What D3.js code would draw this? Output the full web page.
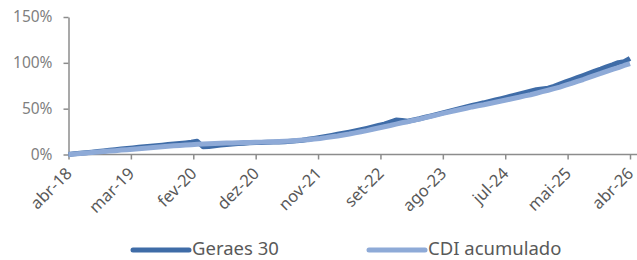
<!DOCTYPE html>
<html>
<head>
<meta charset="utf-8">
<script src="https://cdn.jsdelivr.net/npm/d3@7"></script>
<style>
  body { margin: 0; background: #fff; }
  svg { display: block; font-family: "Noto Sans", sans-serif; }
</style>
</head>
<body>
<div id="chart"></div>
<script>
// monthly accumulated return (%), abr-18 .. abr-26
const geraes = [
  0, 0.7, 1.3, 2.0, 2.6, 3.3, 3.9, 4.6, 5.2,
  5.9, 6.5, 7.2, 7.8, 8.4, 9.0, 9.6, 10.2, 10.8, 11.4, 12.0, 12.6,
  13.3, 14.5, 8.4, 8.8, 9.6, 10.3, 10.9, 11.4, 11.9, 12.3, 12.7, 13.0,
  13.2, 13.3, 13.5, 13.7, 14.0, 14.4, 14.9, 15.6, 16.6, 17.6, 18.7, 19.8,
  20.9, 22.0, 23.2, 24.4, 25.7, 27.1, 28.5, 30.0, 31.6, 33.2, 35.4, 37.6,
  37.2, 36.3, 37.6, 39.0, 40.6, 42.2, 43.8, 45.5, 47.1, 48.7, 50.3, 51.9,
  53.5, 55.0, 56.4, 58.0, 59.5, 61.0, 62.6, 64.2, 65.8, 67.4, 69.0, 70.6,
  71.6, 72.4, 74.4, 76.8, 79.2, 81.5, 83.9, 86.2, 88.6, 91.0, 93.2, 95.6,
  97.8, 100.2, 101.2, 104.8
];
const cdi = [
  0, 0.5, 1.0, 1.6, 2.1, 2.6, 3.2, 3.7, 4.2,
  4.8, 5.3, 5.8, 6.3, 6.9, 7.4, 7.9, 8.5, 9.0, 9.5, 9.9, 10.3,
  10.7, 11.1, 11.4, 11.8, 12.0, 12.3, 12.5, 12.6, 12.8, 13.0, 13.2, 13.4,
  13.5, 13.7, 13.9, 14.2, 14.5, 14.8, 15.2, 15.7, 16.2, 16.8, 17.5, 18.4,
  19.3, 20.2, 21.3, 22.3, 23.6, 24.8, 26.1, 27.6, 28.9, 30.3, 31.6, 33.1,
  34.6, 35.8, 37.4, 38.6, 40.2, 41.7, 43.2, 44.8, 46.2, 47.7, 49.1, 50.4,
  51.9, 53.1, 54.3, 55.7, 57.0, 58.3, 59.7, 61.1, 62.4, 63.9, 65.2, 66.8,
  68.5, 70.1, 71.8, 73.6, 75.6, 77.5, 79.8, 81.8, 84.1, 86.4, 88.4, 90.7,
  92.9, 94.8, 97.1, 99.2
];
const tickLabels = ["abr-18", "mar-19", "fev-20", "dez-20", "nov-21",
                    "set-22", "ago-23", "jul-24", "mai-25", "abr-26"];
const yTicks = [0, 50, 100, 150];

const seriesNames = ["Geraes 30", "CDI acumulado"];
const colors = ["#3f6ca7", "#8eaad7"];

const W = 637, H = 260;
const n = cdi.length - 1;

const x = d3.scaleLinear().domain([0, n]).range([68.5, 630]);
const y = d3.scaleLinear().domain([0, 150]).range([154.5, 17]);

const svg = d3.select("#chart").append("svg")
    .attr("width", W)
    .attr("height", H);

// y axis
const yAxis = svg.append("g")
    .attr("transform", "translate(" + x(0) + ",0)")
    .call(d3.axisLeft(y).tickValues(yTicks).tickSize(5).tickSizeOuter(0)
        .tickFormat(d => d + "%"));
yAxis.select(".domain").attr("stroke", "#8c8c8c").attr("stroke-width", 1.5);
yAxis.selectAll(".tick line").attr("stroke", "#8c8c8c").attr("stroke-width", 1.5);
yAxis.selectAll(".tick text")
    .attr("x", -16)
    .attr("fill", "#7f7f7f")
    .style("font-size", "15.5px")
    .style("font-family", "'Noto Sans', sans-serif");

// x axis
const tickPos = tickLabels.map((d, i) => i * n / (tickLabels.length - 1));
const xAxis = svg.append("g")
    .attr("transform", "translate(0," + y(0) + ")")
    .call(d3.axisBottom(x).tickValues(tickPos).tickSize(5).tickSizeOuter(0)
        .tickFormat((d, i) => tickLabels[i]));
xAxis.select(".domain").attr("d", "M" + x(0) + ",0H" + W)
    .attr("stroke", "#8c8c8c").attr("stroke-width", 1.5);
xAxis.selectAll(".tick line").attr("stroke", "#8c8c8c").attr("stroke-width", 1.5);
xAxis.selectAll(".tick text")
    .attr("y", 0)
    .attr("dy", 0)
    .attr("text-anchor", "end")
    .attr("transform", "translate(4,20) rotate(-45)")
    .attr("fill", "#595959")
    .style("font-size", "16.5px")
    .style("font-family", "'Noto Sans', sans-serif");

// lines
const line = d3.line()
    .x((d, i) => x(i))
    .y(d => y(d));

[geraes, cdi].forEach((s, k) => {
    svg.append("path")
        .datum(s)
        .attr("fill", "none")
        .attr("stroke", colors[k])
        .attr("stroke-width", 5)
        .attr("stroke-linejoin", "round")
        .attr("d", line);
});

// legend
const legend = svg.append("g").attr("transform", "translate(0,250)");
const legX = [133, 369];
seriesNames.forEach((name, k) => {
    const g = legend.append("g").attr("transform", "translate(" + legX[k] + ",0)");
    g.append("line")
        .attr("x1", 0).attr("x2", 56)
        .attr("stroke", colors[k])
        .attr("stroke-width", 5)
        .attr("stroke-linecap", "round");
    g.append("text")
        .attr("x", 59)
        .attr("y", 5)
        .attr("fill", "#595959")
        .style("font-size", "18.5px")
        .text(name);
});
</script>
</body>
</html>
